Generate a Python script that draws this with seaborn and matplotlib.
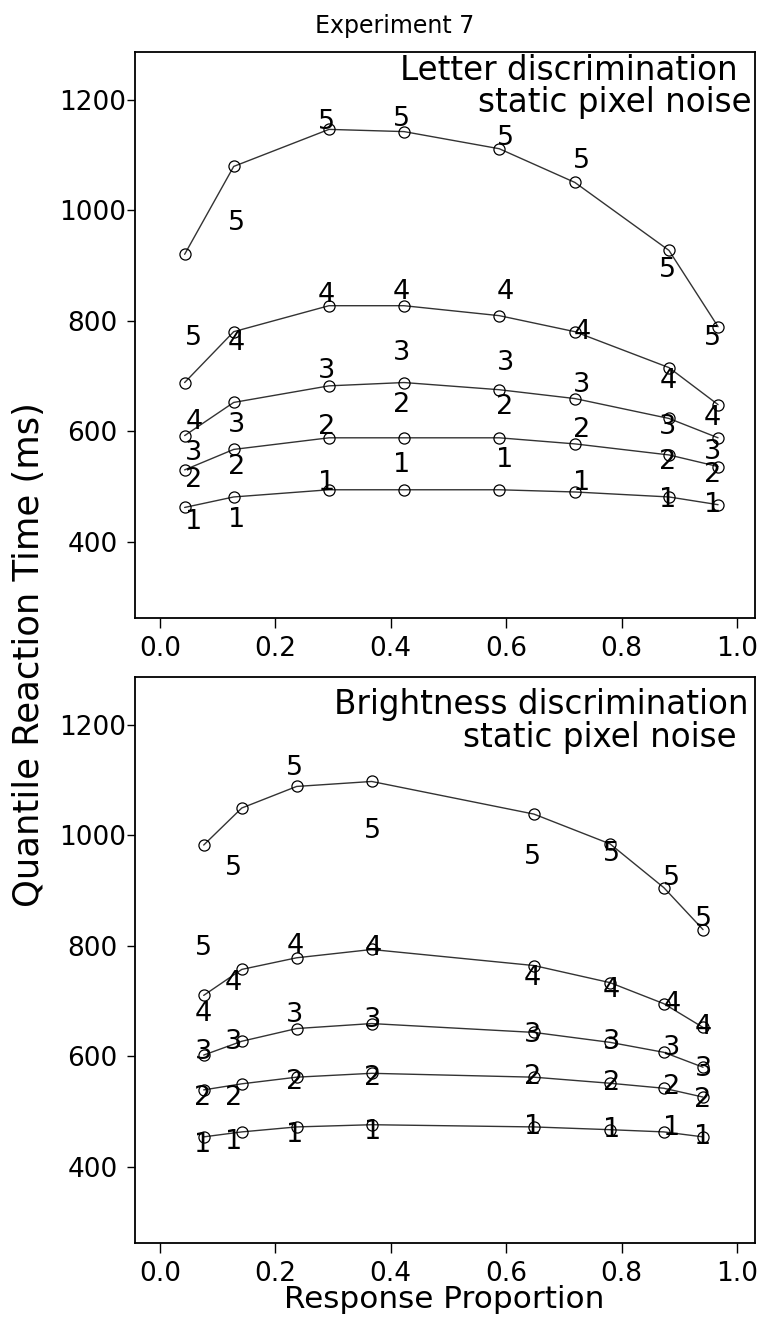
import matplotlib
matplotlib.use("Agg")
import matplotlib.pyplot as plt
import numpy as np
import pandas as pd
import seaborn as sns

# ---------------- data ----------------
quantile_ids = ["1", "2", "3", "4", "5"]

# Letter discrimination (top panel): observed quantile RTs (circles)
letter_p = [0.043, 0.128, 0.293, 0.423, 0.588, 0.719, 0.882, 0.967]
letter_rt_1 = [462, 481, 494, 494, 494, 490, 481, 467]
letter_rt_2 = [530, 567, 588, 588, 588, 577, 557, 536]
letter_rt_3 = [592, 652, 682, 688, 675, 659, 623, 588]
letter_rt_4 = [688, 780, 827, 827, 809, 780, 715, 648]
letter_rt_5 = [920, 1079, 1146, 1142, 1111, 1050, 927, 789]
# predicted quantiles (digits)
letter_pred_p = [0.059, 0.133, 0.289, 0.418, 0.598, 0.731, 0.880, 0.957]
letter_pred_1 = [436, 440, 507, 539, 548, 507, 476, 467]
letter_pred_2 = [512, 536, 608, 648, 643, 603, 545, 521]
letter_pred_3 = [561, 612, 708, 742, 724, 684, 608, 563]
letter_pred_4 = [617, 760, 847, 851, 851, 780, 690, 624]
letter_pred_5 = [769, 977, 1160, 1164, 1131, 1088, 892, 769]

# Brightness discrimination (bottom panel)
bright_p = [0.076, 0.142, 0.237, 0.367, 0.648, 0.780, 0.873, 0.941]
bright_rt_1 = [454, 463, 472, 476, 472, 467, 463, 454]
bright_rt_2 = [539, 550, 562, 569, 562, 551, 542, 526]
bright_rt_3 = [602, 627, 650, 659, 643, 625, 607, 580]
bright_rt_4 = [710, 757, 778, 793, 764, 733, 695, 652]
bright_rt_5 = [982, 1049, 1088, 1097, 1038, 984, 905, 829]
bright_pred_p = [0.075, 0.127, 0.234, 0.369, 0.646, 0.782, 0.887, 0.941]
bright_pred_1 = [440, 445, 458, 463, 472, 467, 470, 454]
bright_pred_2 = [524, 524, 553, 560, 562, 551, 544, 521]
bright_pred_3 = [607, 625, 674, 665, 638, 625, 614, 577]
bright_pred_4 = [677, 733, 800, 795, 742, 719, 695, 652]
bright_pred_5 = [796, 941, 1121, 1007, 960, 966, 923, 849]

xticks = [0.0, 0.2, 0.4, 0.6, 0.8, 1.0]
xtick_labels = ["0.0", "0.2", "0.4", "0.6", "0.8", "1.0"]
yticks = [400, 600, 800, 1000, 1200]
ytick_labels = ["400", "600", "800", "1000", "1200"]

title = "Experiment 7"
panel_text = [("Letter discrimination", "static pixel noise"),
              ("Brightness discrimination", "static pixel noise")]
ylabel = "Quantile Reaction Time (ms)"
xlabel = "Response Proportion"


def long_frame(p, series):
    rows = []
    for q, vals in zip(quantile_ids, series):
        for x, v in zip(p, vals):
            rows.append({"q": q, "p": x, "rt": v})
    return pd.DataFrame(rows)


letter_obs = long_frame(letter_p, [letter_rt_1, letter_rt_2, letter_rt_3, letter_rt_4, letter_rt_5])
letter_pred = long_frame(letter_pred_p, [letter_pred_1, letter_pred_2, letter_pred_3, letter_pred_4, letter_pred_5])
bright_obs = long_frame(bright_p, [bright_rt_1, bright_rt_2, bright_rt_3, bright_rt_4, bright_rt_5])
bright_pred = long_frame(bright_pred_p, [bright_pred_1, bright_pred_2, bright_pred_3, bright_pred_4, bright_pred_5])

# ---------------- style ----------------
sns.set_theme(style="white")
plt.rcParams["font.family"] = ["DejaVu Sans"]
plt.rcParams["axes.edgecolor"] = "black"
plt.rcParams["text.color"] = "black"

W, H = 765, 1325
fig = plt.figure(figsize=(W / 100, H / 100), dpi=100)
fig.patch.set_facecolor("white")

L, R = 135, 755
panels = [(52, 618), (677, 1243)]  # top, bottom in pixels

axes = []
for (top, bot) in panels:
    ax = fig.add_axes([L / W, 1 - bot / H, (R - L) / W, (bot - top) / H])
    axes.append(ax)

data = [(letter_obs, letter_pred), (bright_obs, bright_pred)]
text_pos = [((738, 80), (752, 112)), ((748, 714), (737, 747))]

for i, (ax, (obs, pred)) in enumerate(zip(axes, data)):
    top, bot = panels[i]
    sns.lineplot(data=obs, x="p", y="rt", units="q", estimator=None, ax=ax,
                 color="#333333", linewidth=1.0, marker="o", markersize=8,
                 markerfacecolor="none", markeredgecolor="black",
                 markeredgewidth=0.9, legend=False, sort=True)
    for _, r in pred.iterrows():
        ax.text(r["p"], r["rt"], r["q"], ha="center", va="center",
                fontsize=19.5, color="black")
    ax.set_xlim(-0.043, 1.031)
    ax.set_ylim(262, 1286)
    ax.set_xticks(xticks)
    ax.set_xticklabels(xtick_labels)
    ax.set_yticks(yticks)
    ax.set_yticklabels(ytick_labels)
    ax.set_xlabel("")
    ax.set_ylabel("")
    for s in ax.spines.values():
        s.set_visible(True)
        s.set_linewidth(1.3)
        s.set_color("black")
    ax.tick_params(axis="x", direction="out", length=7, width=1.0, pad=6,
                   labelsize=19, colors="black", bottom=True)
    ax.tick_params(axis="y", direction="out", length=5.8, width=1.0, pad=24.8,
                   labelsize=19, colors="black", left=True)
    for lab in ax.get_yticklabels():
        lab.set_horizontalalignment("center")
    ax.grid(False)
    # panel description text
    (x1, y1), (x2, y2) = text_pos[i]
    for (tx, ty), s in zip(((x1, y1), (x2, y2)), panel_text[i]):
        ax.text((tx - L) / (R - L), (bot - ty) / (bot - top), s,
                transform=ax.transAxes, ha="right", va="baseline",
                fontsize=23.5, color="black")

fig.text(395 / W, 1 - 33 / H, title, ha="center", va="baseline", fontsize=17)
fig.text(29 / W, 1 - 655 / H, ylabel, rotation=90, ha="center", va="center",
         fontsize=25.5)
fig.text(444 / W, 1 - 1300 / H, xlabel, ha="center", va="center", fontsize=22.4)

fig.savefig("out.png", dpi=100, facecolor="white")
